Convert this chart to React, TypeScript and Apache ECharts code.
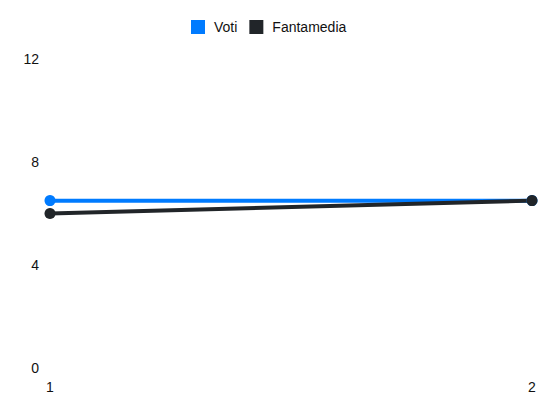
import React, { useEffect, useRef } from "react";
import * as echarts from "echarts";

const categories = ["1", "2"];
const voti = [6.5, 6.5];
const fantamedia = [6, 6.5];
const yTicks = [0, 4, 8, 12];

export default function App() {
  const ref = useRef<HTMLDivElement>(null);
  useEffect(() => {
    const chart = echarts.init(ref.current!, null, { renderer: "svg" });
    chart.setOption({
      animation: false,
      textStyle: { fontFamily: "Liberation Sans, Arial, sans-serif" },
      legend: {
        top: 7,
        left: 178,
        itemWidth: 14,
        itemHeight: 14,
        itemGap: 12,
        icon: "rect",
        textStyle: { fontSize: 14, color: "#111", padding: [0, 0, 0, 4] },
        data: ["Voti", "Fantamedia"],
      },
      grid: { left: 42, right: 10, top: 51, bottom: 36, containLabel: false },
      xAxis: {
        type: "category",
        data: categories,
        boundaryGap: false,
        axisLine: { show: false },
        axisTick: { show: false },
        axisLabel: { margin: 12, fontSize: 14, color: "#111" },
        splitLine: { show: false },
      },
      yAxis: {
        type: "value",
        min: yTicks[0],
        max: yTicks[yTicks.length - 1],
        interval: 4,
        axisLine: { show: false },
        axisTick: { show: false },
        axisLabel: { margin: 11, fontSize: 14, color: "#111" },
        splitLine: { show: false },
      },
      series: [
        {
          name: "Voti",
          type: "line",
          data: voti,
          color: "#007bff",
          symbol: "circle",
          symbolSize: 11,
          lineStyle: { width: 4, color: "#007bff" },
          itemStyle: { color: "#007bff" },
        },
        {
          name: "Fantamedia",
          type: "line",
          data: fantamedia,
          color: "#212529",
          symbol: "circle",
          symbolSize: 11,
          lineStyle: { width: 4, color: "#212529" },
          itemStyle: { color: "#212529" },
        },
      ],
    });
    return () => chart.dispose();
  }, []);
  return <div ref={ref} style={{ width: 534, height: 396 }} />;
}
